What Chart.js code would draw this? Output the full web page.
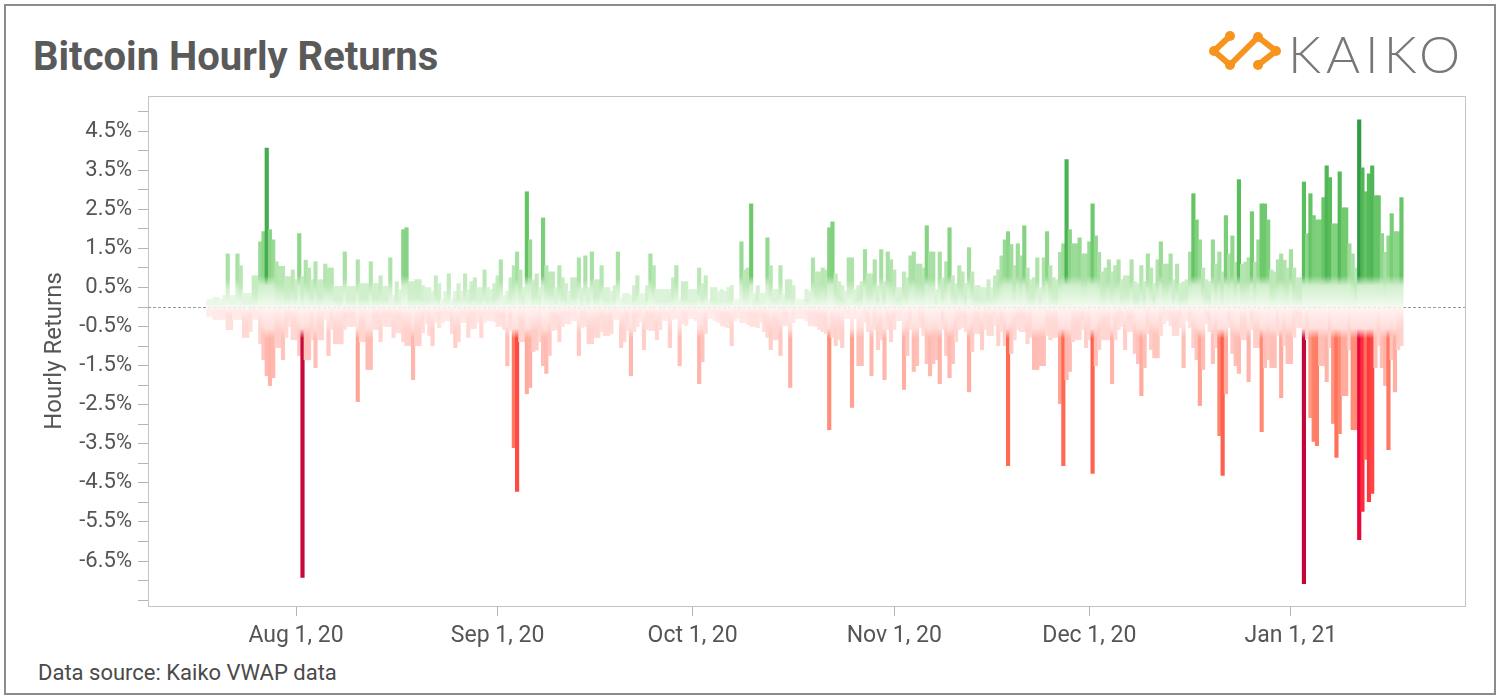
<!DOCTYPE html>
<html>
<head>
<meta charset="utf-8">
<script src="https://cdn.jsdelivr.net/npm/chart.js@4.4.1/dist/chart.umd.min.js"></script>
<style>
  body { margin: 0; background: #fff; font-family: Roboto, "Noto Sans", sans-serif; }
  #frame { position: absolute; left: 4px; top: 4px; width: 1488px; height: 687px; border: 2px solid #8c8c8c; }
  #title { position: absolute; left: 33px; top: 33px; font: bold 40px Roboto, sans-serif; color: #5a5a5a; }
  #logo { position: absolute; left: 1205px; top: 25px; }
  #logoText { position: absolute; left: 1288px; top: 22px; font: 300 52px Lato, "Open Sans", sans-serif; color: #777; letter-spacing: 5px; }
  #source { position: absolute; left: 38px; top: 660px; font: 22px Roboto, sans-serif; color: #4a4a4a; }
  #wrap { position: absolute; left: 0; top: 0; width: 1500px; height: 698px; }
</style>
</head>
<body>
<div id="frame"></div>
<div id="title">Bitcoin Hourly Returns</div>
<svg id="logo" width="80" height="50" viewBox="0 0 80 50">
  <path d="M25 11 L9 26 L25 40 L53 12 L71 26 L53 40" fill="none" stroke="#f7941d" stroke-width="6" stroke-linejoin="round"/>
  <circle cx="9" cy="26" r="5" fill="#f7941d"/>
  <circle cx="25" cy="11" r="5" fill="#f7941d"/>
  <circle cx="25" cy="40" r="5" fill="#f7941d"/>
  <circle cx="53" cy="12" r="5" fill="#f7941d"/>
  <circle cx="71" cy="26" r="5" fill="#f7941d"/>
  <circle cx="53" cy="40" r="5" fill="#f7941d"/>
</svg>
<div id="logoText">KAIKO</div>
<div id="source">Data source: Kaiko VWAP data</div>
<div id="wrap"><canvas id="chart" width="1500" height="698"></canvas></div>
<script>
// 12-hour buckets starting Jul 18, 2020 12:00 (days relative to Aug 1, 2020)
var firstBucketDay = -13.5;
var bucketDays = 0.5;

// largest positive hourly return in each bucket (%)
var posReturns = [
  0.19, 0.2, 0.25, 0.25, 0.2, 0.3, 1.36, 0.3, 0.3, 1.36,
  1.06, 0.35, 0.35, 0.35, 0.8, 0.8, 1.67, 1.93, 4.07, 1.98,
  1.72, 1.16, 1.04, 1.04, 0.78, 0.78, 0.95, 0.7, 1.88, 0.78,
  1.2, 1.0, 0.7, 1.16, 0.7, 0.7, 1.1, 1.0, 1.0, 0.53,
  0.53, 0.53, 1.41, 0.53, 0.53, 0.53, 1.21, 0.6, 0.6, 0.6,
  1.16, 0.6, 0.6, 0.8, 0.53, 0.53, 1.26, 0.3, 0.65, 0.44,
  1.98, 2.03, 0.65, 0.65, 0.7, 0.7,
  0.55, 0.5, 0.5, 0.4, 0.8, 0.6, 0.2, 0.4, 0.85, 0.24,
  0.4, 0.6, 0.4, 0.85, 0.45, 0.65, 0.75, 0.5, 0.5, 0.95,
  0.5, 0.45, 0.6, 0.8, 1.21, 0.3, 0.4, 0.75, 1.06, 1.41,
  0.95, 0.5, 2.95, 1.72, 0.7, 0.85, 0.5, 2.28, 1.06, 0.9,
  0.9, 0.5, 1.06, 0.75, 0.6, 0.4, 0.75, 0.75, 1.26, 0.5,
  1.31, 0.5, 1.41, 0.7, 0.7, 1.06, 0.5, 0.5, 0.4, 0.55,
  1.41, 0.24, 0.35, 0.35, 0.3, 0.55, 0.8,
  0.34, 0.34, 0.55, 1.36, 1.06, 0.45, 0.45, 0.45, 0.45, 0.45,
  0.75, 1.06, 0.24, 0.65, 0.65, 0.45, 0.45, 0.45, 1.0, 0.6,
  0.8, 0.2, 0.5, 0.5, 0.4, 0.45, 0.4, 0.5, 0.55, 0.2,
  0.2, 1.67, 0.95, 1.0, 2.64, 0.35, 0.55, 0.35, 0.35, 1.77,
  1.06, 0.45, 0.45, 1.06, 0.34, 0.7, 0.7, 0.55, 0.2, 0.2,
  0.2, 0.45, 0.4, 1.26, 0.9, 0.9, 1.0, 0.95, 2.03, 2.18,
  0.85, 0.65, 0.55, 0.4, 1.26, 1.26, 0.45, 0.55,
  0.65, 1.47, 0.85, 0.85, 1.21, 0.55, 1.47, 0.65, 1.41, 1.21,
  0.95, 0.5, 0.5, 0.9, 0.75, 1.31, 1.41, 1.1, 1.1, 1.0,
  2.08, 1.41, 1.41, 0.45, 1.41, 0.75, 1.16, 2.03, 0.8, 0.6,
  1.06, 0.9, 0.6, 1.52, 0.9, 0.55, 0.55, 0.5, 0.5, 0.7,
  0.5, 0.8, 0.95, 1.31, 1.72, 1.93, 1.6, 1.06, 1.62, 1.31,
  2.08, 1.0, 0.7, 0.75, 1.26, 0.5, 1.26, 1.93, 1.06, 0.75,
  0.7, 1.4, 1.62, 3.77, 1.98, 1.62, 1.62, 1.77,
  1.36, 1.36, 1.67, 2.64, 1.82, 1.4, 0.9, 1.0, 1.21, 0.9,
  1.06, 1.21, 0.7, 0.8, 0.8, 1.21, 0.65, 0.6, 1.06, 0.65,
  1.36, 1.0, 0.6, 1.21, 1.67, 1.1, 1.1, 1.36, 0.7, 1.1,
  0.6, 0.65, 0.7, 1.41, 2.9, 2.23, 1.72, 1.0, 0.7, 0.65,
  1.72, 1.1, 1.41, 0.9, 2.34, 1.36, 1.82, 1.15, 3.26, 1.1,
  1.15, 1.26, 2.44, 1.15, 1.72, 2.64, 2.64, 2.23, 0.95, 0.9,
  1.21, 1.36, 1.2, 1.0, 1.47, 1.0, 0.75, 0.75,
  3.2, 1.88, 2.9, 2.34, 2.23, 2.23, 2.8, 3.61, 3.31, 2.13,
  2.13, 3.46, 2.54, 2.54, 1.62, 1.36, 1.0, 4.79, 3.56, 2.95,
  3.41, 3.61, 2.85, 2.85, 1.88, 1.4, 1.82, 2.39, 1.93, 1.93, 2.8
];

// largest negative hourly return in each bucket (%)
var negReturns = [
  -0.24, -0.24, -0.32, -0.32, -0.32, -0.32, -0.58, -0.58, -0.32, -0.32,
  -0.32, -0.78, -0.78, -0.63, -0.32, -0.32, -0.94, -1.35, -1.76, -2.01,
  -1.81, -1.04, -1.04, -1.35, -0.78, -0.5, -0.84, -0.84, -1.24, -6.92,
  -1.35, -1.35, -0.84, -1.55, -0.84, -0.84, -0.32, -1.24, -0.58, -0.94,
  -0.94, -0.94, -0.58, -0.5, -0.5, -0.5, -2.42, -0.89, -0.89, -1.6,
  -1.6, -0.58, -0.58, -0.89, -0.5, -0.5, -0.5, -0.78, -0.66, -0.66,
  -0.89, -0.99, -0.99, -1.86, -0.99, -0.99,
  -0.66, -0.43, -0.73, -0.99, -0.4, -0.53, -0.4, -0.35, -0.35, -0.68,
  -1.04, -0.89, -0.4, -0.4, -0.78, -0.55, -0.55, -0.4, -0.78, -0.4,
  -0.35, -0.35, -0.38, -0.5, -0.5, -0.58, -1.5, -0.6, -3.6, -4.72,
  -0.89, -0.89, -2.22, -2.06, -1.14, -1.1, -0.89, -1.5, -1.7, -1.24,
  -0.6, -0.58, -0.89, -0.5, -0.43, -0.43, -0.35, -0.35, -1.24, -0.53,
  -0.5, -0.94, -0.94, -0.78, -0.78, -0.63, -0.73, -0.73, -0.68, -0.32,
  -0.32, -1.04, -0.89, -0.6, -1.76, -0.63, -0.5,
  -0.38, -1.09, -0.58, -0.6, -0.6, -0.84, -0.58, -0.35, -0.35, -1.04,
  -0.32, -0.3, -1.5, -0.43, -0.48, -0.3, -0.3, -0.35, -1.96, -1.4,
  -0.68, -0.3, -0.3, -0.35, -0.4, -0.48, -0.5, -0.53, -0.99, -0.35,
  -0.3, -0.4, -0.4, -0.45, -0.5, -0.5, -0.53, -0.4, -0.63, -0.78,
  -1.09, -0.84, -0.84, -1.24, -0.48, -0.48, -2.06, -0.4, -0.3, -0.3,
  -0.3, -0.35, -0.48, -0.48, -0.5, -0.58, -0.63, -0.68, -3.14, -0.78,
  -0.99, -0.84, -1.04, -0.3, -0.3, -2.57, -0.3, -1.5,
  -1.5, -0.4, -0.63, -1.76, -0.58, -1.09, -0.84, -1.86, -0.58, -0.89,
  -0.58, -0.35, -0.35, -2.11, -1.24, -0.58, -1.65, -1.5, -0.53, -0.73,
  -1.45, -1.76, -1.45, -1.35, -1.96, -0.58, -1.24, -1.81, -1.45, -0.89,
  -0.58, -0.53, -0.63, -2.17, -1.14, -0.68, -0.68, -1.09, -0.58, -0.73,
  -0.73, -0.48, -0.99, -0.63, -0.99, -4.06, -1.19, -0.84, -0.58, -0.63,
  -0.63, -0.94, -0.78, -1.6, -1.6, -1.5, -1.5, -0.73, -0.84, -0.78,
  -0.78, -2.47, -4.06, -1.86, -1.65, -0.89, -0.84, -0.84,
  -0.58, -1.04, -0.84, -4.26, -1.5, -1.09, -0.84, -0.84, -0.84, -1.96,
  -0.84, -0.58, -0.5, -1.09, -0.63, -0.63, -1.19, -1.45, -2.27, -1.55,
  -0.68, -1.09, -1.3, -1.3, -0.73, -0.43, -0.35, -0.48, -0.73, -0.73,
  -0.53, -1.55, -0.35, -0.53, -1.04, -1.35, -2.52, -1.6, -0.43, -0.63,
  -1.45, -1.04, -3.29, -4.31, -2.22, -0.53, -1.19, -1.5, -1.7, -0.84,
  -0.84, -1.91, -0.58, -1.04, -1.04, -3.19, -1.55, -1.35, -1.55, -1.55,
  -0.73, -2.32, -0.99, -1.45, -1.45, -0.78, -0.53, -0.53,
  -7.08, -0.84, -2.83, -3.44, -3.55, -1.5, -1.5, -1.91, -1.04, -2.98,
  -3.85, -3.24, -2.27, -2.27, -1.09, -3.14, -3.14, -5.95, -5.23, -3.9,
  -4.98, -4.77, -1.55, -0.99, -1.55, -2.01, -3.65, -1.35, -2.17, -1.09, -0.99
];

var tickDays = [0, 31, 61, 92, 122, 153];
var tickLabels = ['Aug 1, 20', 'Sep 1, 20', 'Oct 1, 20', 'Nov 1, 20', 'Dec 1, 20', 'Jan 1, 21'];

// y tick marks every 0.5%, labels only on these
var yTickValues = [-7.5, -7, -6.5, -6, -5.5, -5, -4.5, -4, -3.5, -3, -2.5, -2, -1.5, -1, -0.5, 0,
  0.5, 1, 1.5, 2, 2.5, 3, 3.5, 4, 4.5, 5];
var yLabelValues = [-6.5, -5.5, -4.5, -3.5, -2.5, -1.5, -0.5, 0.5, 1.5, 2.5, 3.5, 4.5];

var greenStops = [[0, '#f6fcf5'], [0.3, '#e6f7e3'], [0.6, '#d0efcc'], [1.0, '#b9e7b4'], [1.5, '#a2de9e'],
  [2.0, '#88d485'], [2.6, '#6fc96d'], [3.3, '#58bc5b'], [4.0, '#46ae4e'], [4.8, '#2e9b47']];
var redStops = [[0, '#fff7f7'], [0.3, '#ffebe9'], [0.6, '#ffdedb'], [1.0, '#ffd1cc'], [1.5, '#ffbfb7'],
  [2.0, '#ffb2a8'], [2.5, '#ffa594'], [3.2, '#ff8b74'], [3.6, '#ff7a63'], [4.2, '#ff6550'],
  [4.7, '#ff4a45'], [5.2, '#ff2c40'], [6.0, '#e6053a'], [7.1, '#c3073a']];

function hexToRgb(h) {
  return [parseInt(h.substr(1, 2), 16), parseInt(h.substr(3, 2), 16), parseInt(h.substr(5, 2), 16)];
}

function colorFor(stops, m) {
  if (m <= stops[0][0]) return stops[0][1];
  for (var i = 1; i < stops.length; i++) {
    if (m <= stops[i][0]) {
      var t = (m - stops[i - 1][0]) / (stops[i][0] - stops[i - 1][0]);
      var a = hexToRgb(stops[i - 1][1]), b = hexToRgb(stops[i][1]);
      return 'rgb(' + Math.round(a[0] + (b[0] - a[0]) * t) + ',' + Math.round(a[1] + (b[1] - a[1]) * t) + ',' + Math.round(a[2] + (b[2] - a[2]) * t) + ')';
    }
  }
  return stops[stops.length - 1][1];
}

// bar fill: pale near zero (where small hours overlap), own colour towards the tip
function barFill(stops) {
  return function (c) {
    var chart = c.chart;
    if (!chart.chartArea || !c.raw) return colorFor(stops, 0.5);
    var v = c.raw.y, m = Math.abs(v);
    var y0 = chart.scales.y.getPixelForValue(0);
    var y1 = chart.scales.y.getPixelForValue(v);
    if (Math.abs(y1 - y0) < 1) return colorFor(stops, m);
    var g = chart.ctx.createLinearGradient(0, y0, 0, y1);
    var b = Math.min(0.55, m * 0.35) / m;
    var full = Math.min(1, b + 0.25 / m);
    g.addColorStop(0, colorFor(stops, Math.min(m, 0.08)));
    g.addColorStop(b, colorFor(stops, Math.min(m, 0.6)));
    g.addColorStop(full, colorFor(stops, m));
    g.addColorStop(1, colorFor(stops, m));
    return g;
  };
}

function toPoints(values) {
  return values.map(function (v, i) { return { x: firstBucketDay + i * bucketDays, y: v }; });
}

var frameAndZero = {
  id: 'frameAndZero',
  beforeDatasetsDraw: function (chart) {
    var ctx = chart.ctx, a = chart.chartArea;
    var y0 = Math.round(chart.scales.y.getPixelForValue(0)) + 0.5;
    ctx.save();
    ctx.strokeStyle = '#c4c4c4';
    ctx.lineWidth = 1;
    ctx.strokeRect(Math.round(a.left) + 0.5, Math.round(a.top) + 0.5, Math.round(a.right - a.left), Math.round(a.bottom - a.top));
    ctx.strokeStyle = '#9a9a9a';
    ctx.setLineDash([3, 2]);
    ctx.beginPath();
    ctx.moveTo(a.left, y0);
    ctx.lineTo(a.right, y0);
    ctx.stroke();
    ctx.restore();
  }
};

var ctx = document.getElementById('chart').getContext('2d');
var myChart = new Chart(ctx, {
  type: 'bar',
  data: {
    datasets: [{
      label: 'Positive',
      data: toPoints(posReturns),
      backgroundColor: barFill(greenStops),
      grouped: false,
      barThickness: 3.5
    }, {
      label: 'Negative',
      data: toPoints(negReturns),
      backgroundColor: barFill(redStops),
      grouped: false,
      barThickness: 3.5
    }]
  },
  options: {
    responsive: false,
    animation: false,
    layout: { padding: { left: 41, right: 35, top: 96, bottom: 40 } },
    plugins: { legend: { display: false }, tooltip: { enabled: false } },
    scales: {
      x: {
        type: 'linear',
        offset: false,
        min: -22.76,
        max: 179.77,
        afterBuildTicks: function (s) { s.ticks = tickDays.map(function (d) { return { value: d }; }); },
        afterFit: function (s) { s.height = 52; },
        grid: { offset: false, drawOnChartArea: false, drawTicks: true, tickLength: 10, color: '#b4b4b4' },
        border: { display: false },
        ticks: {
          autoSkip: false,
          maxRotation: 0,
          padding: 6,
          color: '#555',
          font: { family: 'Roboto', size: 23 },
          callback: function (v) { return tickLabels[tickDays.indexOf(v)]; }
        }
      },
      y: {
        min: -7.65,
        max: 5.4,
        afterBuildTicks: function (s) { s.ticks = yTickValues.map(function (v) { return { value: v }; }); },
        afterFit: function (s) { s.width = 107; },
        grid: { drawOnChartArea: false, drawTicks: true, tickLength: 10, color: '#b4b4b4' },
        border: { display: false },
        title: { display: true, text: 'Hourly Returns', color: '#555', font: { family: 'Roboto', size: 24 }, padding: 0 },
        ticks: {
          autoSkip: false,
          padding: 6,
          color: '#555',
          font: { family: 'Roboto', size: 22 },
          callback: function (v) {
            return yLabelValues.indexOf(v) >= 0 ? v.toFixed(1) + '%' : '';
          }
        }
      }
    }
  },
  plugins: [frameAndZero]
});
</script>
</body>
</html>
